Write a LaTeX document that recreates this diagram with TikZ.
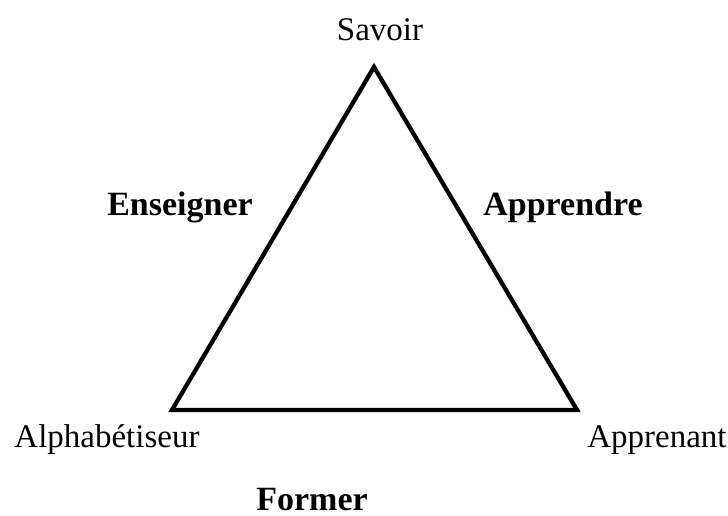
\documentclass[tikz,border=0pt]{standalone}
\usepackage{fontspec}
\setmainfont{Liberation Serif}
\begin{document}
\begin{tikzpicture}[x=1pt,y=-1pt,
  vertexlabel/.style={anchor=base,inner sep=0pt,font=\fontsize{33}{39}\selectfont},
  actionlabel/.style={anchor=base,inner sep=0pt,font=\fontsize{34}{40}\selectfont\bfseries},
  edge/.style={line width=4.3pt,line join=miter}]
  \useasboundingbox (0,0) rectangle (728,516);
  % triangle corners
  \coordinate (top) at (374,67);
  \coordinate (left) at (172,410);
  \coordinate (right) at (577,410);
  \draw[edge] (top) -- (right) -- (left) -- cycle;
  % corner labels
  \node[vertexlabel] (savoir) at (380,41) {Savoir};
  \node[vertexlabel] (alpha) at (107,447) {Alphabétiseur};
  \node[vertexlabel] (apprenant) at (657,447) {Apprenant};
  % side labels
  \node[actionlabel] (enseigner) at (180,215) {Enseigner};
  \node[actionlabel] (apprendre) at (563,215) {Apprendre};
  \node[actionlabel] (former) at (312,510) {Former};
\end{tikzpicture}
\end{document}
